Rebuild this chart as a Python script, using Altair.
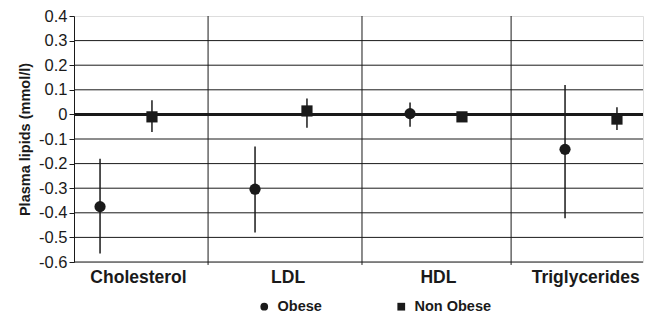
import altair as alt
import pandas as pd

# ---- data ----
categories = ["Cholesterol", "LDL", "HDL", "Triglycerides"]
groups = ["Obese", "Non Obese"]
obese_mean = [-0.375, -0.304, 0.003, -0.142]
obese_low = [-0.565, -0.480, -0.050, -0.422]
obese_high = [-0.180, -0.130, 0.048, 0.120]
nonobese_mean = [-0.010, 0.014, -0.010, -0.019]
nonobese_low = [-0.072, -0.054, -0.024, -0.063]
nonobese_high = [0.058, 0.065, 0.003, 0.029]
y_ticks = [-0.6, -0.5, -0.4, -0.3, -0.2, -0.1, 0.0, 0.1, 0.2, 0.3, 0.4]

# ---- layout constants (category units) ----
GROUP_OFFSET = {"Obese": 0.0, "Non Obese": 0.335}
X_DOMAIN = [-0.168, 3.503]
SEPARATORS = [0.697, 1.690, 2.652]
LABEL_POS = [0.245, 1.21, 2.18, 3.13]
FONT = "Liberation Sans"
INK = "#1a1a1a"

rows = []
for i, c in enumerate(categories):
    rows.append(dict(cat=c, group="Obese", mean=obese_mean[i], low=obese_low[i],
                     high=obese_high[i], xpos=i + GROUP_OFFSET["Obese"]))
    rows.append(dict(cat=c, group="Non Obese", mean=nonobese_mean[i], low=nonobese_low[i],
                     high=nonobese_high[i], xpos=i + GROUP_OFFSET["Non Obese"]))
df = pd.DataFrame(rows)

grid_df = pd.DataFrame({"y": [v for v in y_ticks if v < 0.4]})
sep_df = pd.DataFrame({"x": SEPARATORS})

label_map = "{" + ",".join(f"'{p}':'{c}'" for p, c in zip(LABEL_POS, categories)) + "}"
x_label_expr = f"{label_map}[toString(datum.value)]"
y_label_expr = ("abs(datum.value) < 1e-9 ? '0' : (datum.value < 0 ? '-' + format(-datum.value, '.1f') "
                ": format(datum.value, '.1f'))")

xscale = alt.Scale(domain=X_DOMAIN, nice=False, zero=False)
yscale = alt.Scale(domain=[-0.6, 0.4], nice=False, zero=False)

x_axis = alt.Axis(values=LABEL_POS, labelExpr=x_label_expr, ticks=False, domain=False,
                  grid=False, title=None, labelFont=FONT, labelFontSize=17.5,
                  labelFontWeight="bold", labelColor=INK, labelPadding=6,
                  labelOverlap=False)
y_axis = alt.Axis(values=y_ticks, labelExpr=y_label_expr, tickSize=5, tickColor=INK,
                  domainColor=INK, grid=False, title="Plasma lipids (mmol/l)",
                  titleFont=FONT, titleFontSize=14.5, titleFontWeight="bold", titleColor=INK,
                  labelFont=FONT, labelFontSize=16.5, labelColor=INK, labelPadding=2,
                  labelOverlap=False, labelFlush=False, titlePadding=6)

grid = alt.Chart(grid_df).mark_rule(color=INK, strokeWidth=1).encode(
    y=alt.Y("y:Q", scale=yscale, axis=y_axis)
)

zero = alt.Chart(grid_df).mark_rule(color=INK, strokeWidth=2.5).encode(
    y=alt.datum(0, axis=y_axis))

seps = alt.Chart(sep_df).mark_rule(color=INK, strokeWidth=1).encode(
    x=alt.X("x:Q", scale=xscale, axis=x_axis),
    y=alt.datum(-0.612, axis=y_axis),
    y2=alt.datum(0.4),
)

err = alt.Chart(df).mark_rule(color=INK, strokeWidth=1.5).encode(
    x=alt.X("xpos:Q", scale=xscale, axis=x_axis),
    y=alt.Y("low:Q", scale=yscale, axis=y_axis),
    y2="high:Q",
)

pts = alt.Chart(df).mark_point(filled=True, opacity=1, size=125, color=INK).encode(
    x=alt.X("xpos:Q", scale=xscale, axis=x_axis),
    y=alt.Y("mean:Q", scale=yscale, axis=y_axis),
    shape=alt.Shape("group:N", scale=alt.Scale(domain=groups, range=["circle", "square"]),
                    legend=alt.Legend(title=None, orient="none", direction="horizontal",
                                      columns=2, legendX=183, legendY=283,
                                      symbolSize=60, symbolFillColor=INK,
                                      symbolStrokeColor=INK, symbolType="circle",
                                      labelFont=FONT, labelFontSize=14.5,
                                      labelFontWeight="bold", labelColor=INK,
                                      labelOffset=6, columnPadding=72)),
)

chart = alt.layer(grid, zero, seps, err, pts).properties(
    width=569, height=246,
    autosize=alt.AutoSizeParams(type="none"),
    padding={"left": 66, "top": 8, "right": 1, "bottom": 54},
).configure_view(stroke="#888", strokeWidth=1).configure(background="white")

chart.save("out.html", embed_options={"renderer": "svg", "actions": False})
